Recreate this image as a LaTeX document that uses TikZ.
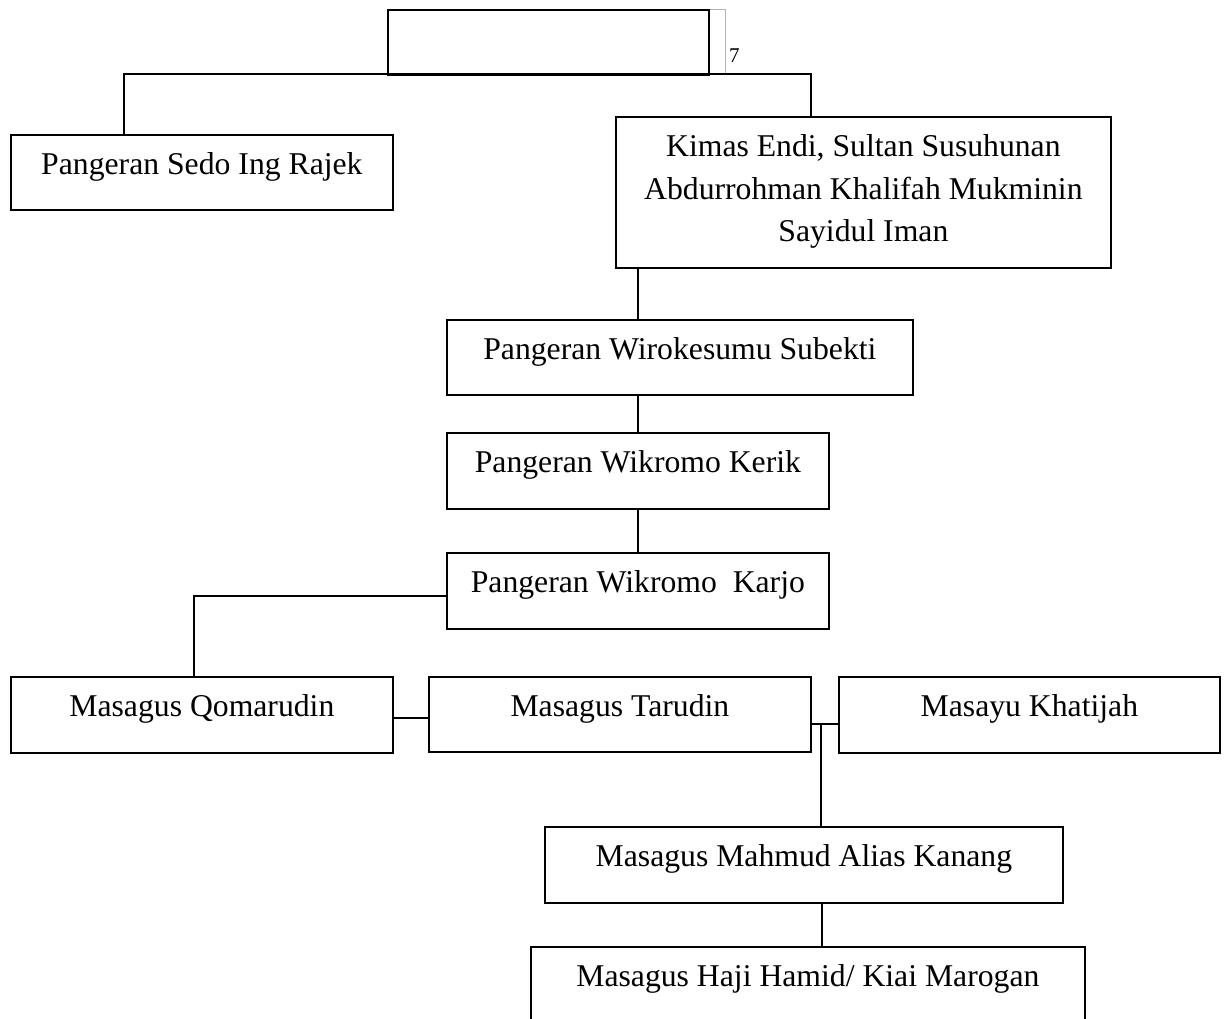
\documentclass[tikz,border=0pt]{standalone}
\usepackage{fontspec}
\setmainfont{Liberation Serif}
\usetikzlibrary{calc}
\tikzset{
  box/.style={draw, line width=1.8pt, inner sep=0pt, anchor=north west},
  txt/.style={font=\fontsize{31.7}{43}\selectfont, inner sep=0pt, anchor=base},
  conn/.style={line width=1.5pt},
  thinconn/.style={line width=1.2pt}
}
\newcommand{\bx}[5]{\node[box, minimum width={(#4-#2)*1pt}, minimum height={(#5-#3)*1pt}] (#1) at (#2,#3) {};}
\begin{document}
\begin{tikzpicture}[x=1pt,y=-1pt]
\useasboundingbox (0,0) rectangle (1227,1019);
\clip (0,0) rectangle (1227,1019);
\fill[white] (0,0) rectangle (1227,1019);

% boxes
\node[draw=gray!60, line width=1.2pt, inner sep=0pt, anchor=north west, minimum width=17pt, minimum height=65pt] (topr) at (708,9) {};
\bx{top}{387}{9}{708}{74}
\node[font=\fontsize{21}{24}\selectfont, inner sep=0pt, anchor=base west] (num) at (729,63) {7};

\bx{sedo}{10}{134}{392}{209}
\bx{kimas}{615}{116}{1110}{267}
\bx{wiro}{446}{319}{912}{394}
\bx{kerik}{446}{432}{828}{508}
\bx{karjo}{446}{552}{828}{628}
\bx{qomar}{10}{676}{392}{752}
\bx{taru}{428}{676}{810}{751}
\bx{khat}{838}{676}{1219}{752}
\bx{mahmud}{544}{826}{1062}{902}
\bx{hamid}{530}{946}{1084}{1050}

% texts
\node[txt] (sedoT) at ($(sedo.north)+(0,41)$) {Pangeran Sedo Ing Rajek};
\node[txt] (kimasT1) at ($(kimas.north)+(0,41)$) {Kimas Endi, Sultan Susuhunan};
\node[txt] (kimasT2) at ($(kimas.north)+(0,84)$) {Abdurrohman Khalifah Mukminin};
\node[txt] (kimasT3) at ($(kimas.north)+(0,126)$) {Sayidul Iman};
\node[txt] (wiroT) at ($(wiro.north)+(0,40)$) {Pangeran Wirokesumu Subekti};
\node[txt] (kerikT) at ($(kerik.north)+(0,40)$) {Pangeran Wikromo Kerik};
\node[txt] (karjoT) at ($(karjo.north)+(0,40)$) {Pangeran Wikromo\ \ Karjo};
\node[txt] (qomarT) at ($(qomar.north)+(0,40)$) {Masagus Qomarudin};
\node[txt] (taruT) at ($(taru.north)+(0,40)$) {Masagus Tarudin};
\node[txt] (khatT) at ($(khat.north)+(0,40)$) {Masayu Khatijah};
\node[txt] (mahmudT) at ($(mahmud.north)+(0,40)$) {Masagus Mahmud Alias Kanang};
\node[txt] (hamidT) at ($(hamid.north)+(0,40)$) {Masagus Haji Hamid/ Kiai Marogan};

% connectors
\coordinate (jL) at (124,74);
\coordinate (jR) at (811,74);
\draw[conn] (sedo.north -| jL) |- (jR) -- (kimas.north -| jR);

\coordinate (cx) at (638,0);
\draw[conn] (kimas.south -| cx) -- (wiro.north -| cx);
\draw[conn] (wiro.south -| cx) -- (kerik.north -| cx);
\draw[conn] (kerik.south -| cx) -- (karjo.north -| cx);

\coordinate (ky) at (194,596);
\draw[conn] (karjo.west |- ky) -| (qomar.north -| ky);

\coordinate (qy) at (0,718);
\draw[conn] (qomar.east |- qy) -- (taru.west |- qy);

\coordinate (ty) at (821,724);
\draw[conn] (taru.east |- ty) -- (khat.west |- ty);
\draw[thinconn] (ty) -- (mahmud.north -| ty);

\coordinate (my) at (822,0);
\draw[thinconn] (mahmud.south -| my) -- (hamid.north -| my);
\end{tikzpicture}
\end{document}
